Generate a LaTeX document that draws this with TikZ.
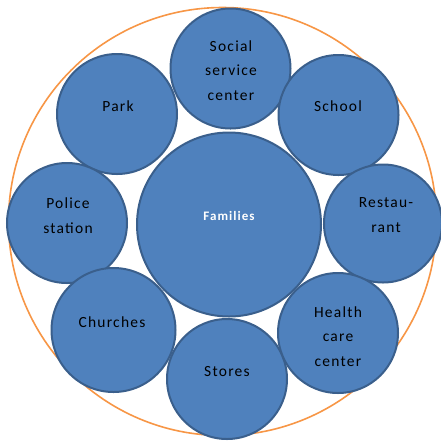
\documentclass[tikz,border=0pt]{standalone}
\usepackage{fontspec}
\setmainfont{Carlito}[LetterSpace=8]
\definecolor{fillblue}{HTML}{4F81BD}
\definecolor{edgeblue}{HTML}{3A5F8C}
\definecolor{ringorange}{HTML}{F79646}
\begin{document}
\begin{tikzpicture}[x=1pt,y=-1pt,
  bubble/.style={circle,fill=fillblue,draw=edgeblue,line width=2pt,inner sep=0pt,minimum size=#1},
  lbl/.style={anchor=base,align=center,text=black,inner sep=0pt,font=\fontsize{15.5}{24.5}\selectfont},
  flbl/.style={anchor=base,text=white,inner sep=0pt,font=\fontsize{13}{15}\selectfont\bfseries}]
\useasboundingbox (0,0) rectangle (441,440);
\node[circle,draw=ringorange,line width=1.6pt,minimum size=428pt,inner sep=0pt] (ring) at (222.5,221.5) {};
\node[bubble=184pt] (families) at (229,224.5) {};
\node[bubble=120pt] (social) at (230.5,68.5) {};
\node[bubble=120pt] (park) at (117,114) {};
\node[bubble=120pt] (school) at (338.5,115) {};
\node[bubble=120pt] (police) at (67,223) {};
\node[bubble=118pt] (restaurant) at (383,223.5) {};
\node[bubble=124pt] (churches) at (113.5,330) {};
\node[bubble=120pt] (stores) at (227,379) {};
\node[bubble=120pt] (health) at (338,333) {};
\node[flbl] (tfam) at (229,220) {Families};
\node[lbl] (tsoc) at (231,100) {Social\\service\\center};
\node[lbl] (tpark) at (118,111) {Park};
\node[lbl] (tschool) at (338,111) {School};
\node[lbl] (tpol) at (68,233) {Police\\station};
\node[lbl] (trest) at (386,232) {Restau-\\rant};
\node[lbl] (tchur) at (112,327) {Churches};
\node[lbl] (tstor) at (227,376) {Stores};
\node[lbl] (thealth) at (338,366) {Health\\care\\center};
\end{tikzpicture}
\end{document}
